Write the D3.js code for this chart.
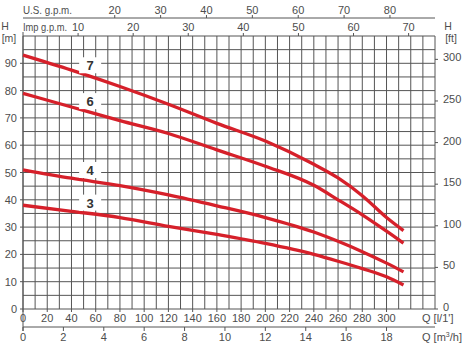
<!DOCTYPE html>
<html>
<head>
<meta charset="utf-8">
<script src="https://cdn.jsdelivr.net/npm/d3@7"></script>
<style>
  html, body { margin: 0; padding: 0; background: #fff; }
  svg { display: block; font-family: "Liberation Sans", Arial, sans-serif; }
  text { fill: #4d4d4d; }
</style>
</head>
<body>
<svg id="chart" width="467" height="347"></svg>
<script>
// Flow (l/min) sample points shared by all pump curves
const flowLpm = [0, 40, 80, 120, 160, 200, 240, 260, 280, 300, 314];

// Head (m) for each pump model
const pumpNames = ["7", "6", "4", "3"];
const head7 = [93, 87.5, 81.5, 75, 68, 61.5, 53, 48, 41.5, 33.5, 28.7];
const head6 = [79, 74, 69, 64.3, 58.3, 52.3, 45.3, 40, 34.5, 28.5, 24.1];
const head4 = [51, 47.9, 45.2, 41.8, 37.8, 33.5, 28.2, 24.8, 21, 16.8, 13.6];
const head3 = [38, 35.8, 33.5, 30.3, 27.3, 24, 20, 17.5, 14.8, 11.8, 8.8];
const heads = [head7, head6, head4, head3];

// Axis tick values
const lpmTicks = d3.range(0, 301, 20);
const m3hTicks = d3.range(0, 19, 2);
const usGpmTicks = [20, 30, 40, 50, 60, 70, 80];
const impGpmTicks = [10, 20, 30, 40, 50, 60, 70];
const headMTicks = d3.range(0, 91, 10);
const headFtTicks = [0, 50, 100, 150, 200, 250, 300];

// Unit conversions
const LPM_PER_USGPM = 3.78541;
const LPM_PER_IMPGPM = 4.54609;
const LPM_PER_M3H = 1000 / 60;
const FT_PER_M = 3.28084;

const svg = d3.select("#chart");
const plotL = 23, plotR = 435, plotT = 36, plotB = 309;

const x = d3.scaleLinear().domain([0, 340]).range([plotL, plotR]);
const y = d3.scaleLinear().domain([0, 100]).range([plotB, plotT]);

const gridColor = "#555";

// Grid
const grid = svg.append("g");
grid.selectAll("line.v").data(d3.range(0, 341, 10)).join("line")
  .attr("x1", d => x(d)).attr("x2", d => x(d))
  .attr("y1", plotT).attr("y2", plotB)
  .attr("stroke", gridColor).attr("stroke-width", 1);
grid.selectAll("line.h").data(d3.range(0, 101, 5)).join("line")
  .attr("x1", plotL).attr("x2", plotR)
  .attr("y1", d => y(d)).attr("y2", d => y(d))
  .attr("stroke", gridColor).attr("stroke-width", 1);

const fs = 11;

// Bottom axis: l/min
const gB = svg.append("g");
gB.selectAll("line").data(lpmTicks).join("line")
  .attr("x1", d => x(d)).attr("x2", d => x(d))
  .attr("y1", plotB).attr("y2", plotB + 3)
  .attr("stroke", gridColor);
gB.selectAll("text").data(lpmTicks).join("text")
  .attr("x", d => x(d)).attr("y", 322)
  .attr("text-anchor", "middle").attr("font-size", fs)
  .text(d => d);
svg.append("text").attr("x", 422).attr("y", 322).attr("font-size", fs)
  .text("Q [l/1']");

// Bottom axis: m3/h
const yM3 = 327;
const gM = svg.append("g");
gM.append("line").attr("x1", plotL).attr("x2", plotR)
  .attr("y1", yM3).attr("y2", yM3).attr("stroke", gridColor);
gM.selectAll("line.t").data(m3hTicks).join("line")
  .attr("x1", d => x(d * LPM_PER_M3H)).attr("x2", d => x(d * LPM_PER_M3H))
  .attr("y1", yM3).attr("y2", yM3 + 4).attr("stroke", gridColor);
gM.selectAll("text").data(m3hTicks).join("text")
  .attr("x", d => x(d * LPM_PER_M3H)).attr("y", 341)
  .attr("text-anchor", "middle").attr("font-size", fs)
  .text(d => d);
const qm = svg.append("text").attr("x", 422).attr("y", 341).attr("font-size", fs);
qm.append("tspan").text("Q [m");
qm.append("tspan").attr("font-size", 7).attr("dy", -4).text("3");
qm.append("tspan").attr("dy", 4).text("/h]");

// Top axis: US gpm
const yUS = 18;
const gU = svg.append("g");
gU.append("line").attr("x1", plotL).attr("x2", plotR)
  .attr("y1", yUS).attr("y2", yUS).attr("stroke", gridColor);
gU.selectAll("line.t").data(usGpmTicks).join("line")
  .attr("x1", d => x(d * LPM_PER_USGPM)).attr("x2", d => x(d * LPM_PER_USGPM))
  .attr("y1", yUS - 3).attr("y2", yUS).attr("stroke", gridColor);
gU.selectAll("text").data(usGpmTicks).join("text")
  .attr("x", d => x(d * LPM_PER_USGPM)).attr("y", 14)
  .attr("text-anchor", "middle").attr("font-size", fs)
  .text(d => d);
svg.append("text").attr("x", plotL).attr("y", 14).attr("font-size", fs)
  .attr("textLength", 49).attr("lengthAdjust", "spacingAndGlyphs")
  .text("U.S. g.p.m.");

// Top axis: Imp gpm
const gI = svg.append("g");
gI.selectAll("line.t").data(impGpmTicks).join("line")
  .attr("x1", d => x(d * LPM_PER_IMPGPM)).attr("x2", d => x(d * LPM_PER_IMPGPM))
  .attr("y1", plotT - 3).attr("y2", plotT).attr("stroke", gridColor);
gI.selectAll("text").data(impGpmTicks).join("text")
  .attr("x", d => x(d * LPM_PER_IMPGPM)).attr("y", 31)
  .attr("text-anchor", "middle").attr("font-size", fs)
  .text(d => d);
svg.append("text").attr("x", plotL).attr("y", 31).attr("font-size", 10.5)
  .attr("textLength", 44).attr("lengthAdjust", "spacingAndGlyphs")
  .text("Imp g.p.m.");

// Left axis: metres
svg.append("line").attr("x1", plotL).attr("x2", plotL)
  .attr("y1", 32).attr("y2", yM3 + 4).attr("stroke", gridColor);
const gL = svg.append("g");
gL.selectAll("line").data(headMTicks).join("line")
  .attr("x1", plotL - 3).attr("x2", plotL)
  .attr("y1", d => y(d)).attr("y2", d => y(d)).attr("stroke", gridColor);
gL.selectAll("text").data(headMTicks).join("text")
  .attr("x", 17).attr("y", d => y(d) + 4)
  .attr("text-anchor", "end").attr("font-size", fs)
  .text(d => d);
svg.append("text").attr("x", 5).attr("y", 30).attr("text-anchor", "middle")
  .attr("font-size", 10.5).text("H");
svg.append("text").attr("x", 9).attr("y", 42).attr("text-anchor", "middle")
  .attr("font-size", 10.5).text("[m]");

// Right axis: feet
const gR = svg.append("g");
gR.selectAll("line").data(headFtTicks).join("line")
  .attr("x1", plotR).attr("x2", plotR + 3)
  .attr("y1", d => y(d / FT_PER_M)).attr("y2", d => y(d / FT_PER_M))
  .attr("stroke", gridColor);
gR.selectAll("text").data(headFtTicks).join("text")
  .attr("x", 443).attr("y", d => y(d / FT_PER_M) + 2)
  .attr("font-size", fs)
  .text(d => d);
svg.append("text").attr("x", 448).attr("y", 30).attr("text-anchor", "middle")
  .attr("font-size", 10.5).text("H");
svg.append("text").attr("x", 451).attr("y", 42).attr("text-anchor", "middle")
  .attr("font-size", 10.5).text("[ft]");

// Pump curves
const line = d3.line()
  .x(d => x(d[0])).y(d => y(d[1]))
  .curve(d3.curveMonotoneX);
const curves = svg.append("g");
heads.forEach(h => {
  curves.append("path")
    .attr("d", line(flowLpm.map((q, i) => [q, h[i]])))
    .attr("fill", "none").attr("stroke", "#d6202a")
    .attr("stroke-width", 3.3).attr("stroke-linecap", "butt");
});

// Model labels sitting above each curve on a white patch
const labelQ = 55;
pumpNames.forEach((name, i) => {
  const hq = d3.scaleLinear().domain(flowLpm).range(heads[i])(labelQ);
  const cx = x(labelQ) + 0.5, cy = y(hq) - 11;
  svg.append("rect")
    .attr("x", cx - 11).attr("y", cy - 8).attr("width", 22).attr("height", 16)
    .attr("fill", "#fff");
  svg.append("text")
    .attr("x", cx).attr("y", cy + 5)
    .attr("text-anchor", "middle").attr("font-size", 13).attr("font-weight", "bold")
    .style("fill", "#333")
    .text(name);
});
</script>
</body>
</html>
